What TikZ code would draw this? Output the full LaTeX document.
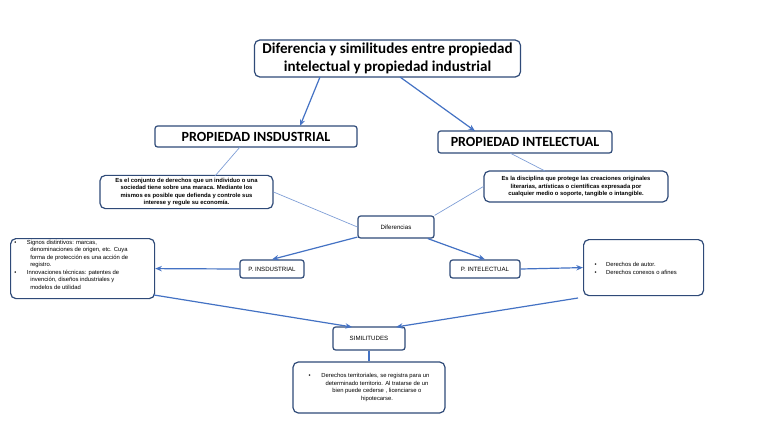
\documentclass[tikz,border=0pt]{standalone}
\usepackage{fontspec}
\setmainfont{Liberation Sans}
\newfontfamily\carlfont{Carlito}
\usetikzlibrary{arrows.meta}
\definecolor{bd}{HTML}{2F4A78}
\definecolor{ln}{HTML}{4472C4}
\begin{document}
\begin{tikzpicture}[x=0.75pt,y=-0.75pt,
 box/.style={draw=bd,line width=0.9pt,rounded corners=4pt,fill=white,inner sep=2pt,align=center},
 arr/.style={draw=ln,line width=0.9pt,-{Stealth[length=5pt,width=4pt]}},
 thin/.style={draw=ln!70,line width=0.5pt}]
\useasboundingbox (0,0) rectangle (768,433);
\fill[white] (0,0) rectangle (768,433);
\node[box,minimum width=199.5pt,minimum height=27.75pt,font=\carlfont\bfseries\fontsize{11.3}{13}\selectfont] (t) at (387.5,58.5) {Diferencia y similitudes entre propiedad\\intelectual y propiedad industrial};
\node[box,rounded corners=2pt,minimum width=151.5pt,minimum height=15.75pt,font=\carlfont\bfseries\fontsize{10.5}{12}\selectfont] (pi) at (256,136.5) {PROPIEDAD INSDUSTRIAL};
\node[box,rounded corners=2pt,minimum width=130.5pt,minimum height=16.5pt,font=\carlfont\bfseries\fontsize{10.5}{12}\selectfont] (pt) at (525,142) {PROPIEDAD INTELECTUAL};
\node[box,minimum width=129.75pt,minimum height=24pt,font=\bfseries\fontsize{4.4}{5.6}\selectfont] (dl) at (186.5,192) {Es el conjunto de derechos que un individuo o una\\sociedad tiene sobre una maraca. Mediante los\\mismos es posible que defienda y controle sus\\interese y regule su economía.};
\node[box,minimum width=138pt,minimum height=23.25pt,font=\bfseries\fontsize{4.4}{5.6}\selectfont] (dr) at (576,186.5) {Es la disciplina que protege las creaciones originales\\literarias, artísticas o científicas expresada por\\cualquier medio o soporte, tangible o intangible.};
\node[box,rounded corners=2pt,minimum width=57pt,minimum height=16.5pt,font=\fontsize{4.6}{6}\selectfont] (df) at (396,227) {Diferencias};
\node[box,rounded corners=2pt,minimum width=48pt,minimum height=13.5pt,font=\fontsize{4.6}{6}\selectfont] (ps) at (272,269) {P. INSDUSTRIAL};
\node[box,rounded corners=2pt,minimum width=52.5pt,minimum height=13.5pt,font=\fontsize{4.6}{6}\selectfont] (pl) at (485,269) {P. INTELECTUAL};
\node[box,minimum width=108pt,minimum height=45pt,anchor=north west] (ll) at (10,238) {};
\node[font=\fontsize{4.4}{5.6}\selectfont,align=left,anchor=north west,inner sep=0pt] (llt) at (14,240) {\textbullet\hspace{8pt}Signos distintivos: marcas,\\\hspace{12pt}denominaciones de origen, etc. Cuya\\\hspace{12pt}forma de protección es una acción de\\\hspace{12pt}registro.\\\textbullet\hspace{8pt}Innovaciones técnicas: patentes de\\\hspace{12pt}invención, diseños industriales y\\\hspace{12pt}modelos de utilidad};
\node[box,minimum width=90pt,minimum height=42pt,anchor=north west] (rl) at (583,239) {};
\node[font=\fontsize{4.4}{5.8}\selectfont,align=left,anchor=north west] (rlt) at (590,258) {\textbullet\hspace{7pt}Derechos de autor.\\\textbullet\hspace{7pt}Derechos conexos o afines};
\node[box,rounded corners=2pt,minimum width=54pt,minimum height=17.25pt,font=\fontsize{4.6}{6}\selectfont] (si) at (369,338.5) {SIMILITUDES};
\node[box,minimum width=114pt,minimum height=38.25pt,font=\fontsize{4.4}{5.6}\selectfont] (bt) at (369,387.5) {\textbullet\hspace{8pt}Derechos territoriales, se registra para un\\\hspace{12pt}determinado territorio. Al tratarse de un\\\hspace{12pt}bien puede cederse , licenciarse o\\\hspace{12pt}hipotecarse.};
\coordinate (a1) at (320,77);
\coordinate (a2) at (300,126);
\coordinate (b1) at (400,77);
\coordinate (b2) at (475,131);
\coordinate (c1) at (154,295);
\coordinate (c2) at (578,298);
\draw[arr] (a1) -- (a2);
\draw[arr] (b1) -- (b2);
\draw[thin] (240,147) -- (215,176);
\draw[thin] (510,153) -- (545,171);
\draw[thin] (dl.east) -- (df.west);
\draw[thin] (dr.west) -- (df.north east);
\draw[arr] (df) -- (ps.north);
\draw[arr] (df) -- (pl.north);
\draw[arr] (ps.west) -- (ll.east);
\draw[arr] (pl.east) -- (rl.west);
\draw[arr] (c1) -- (352,327);
\draw[arr] (c2) -- (396,327);
\draw[draw=ln,line width=2pt] (si.south) -- (bt.north);
\end{tikzpicture}
\end{document}
